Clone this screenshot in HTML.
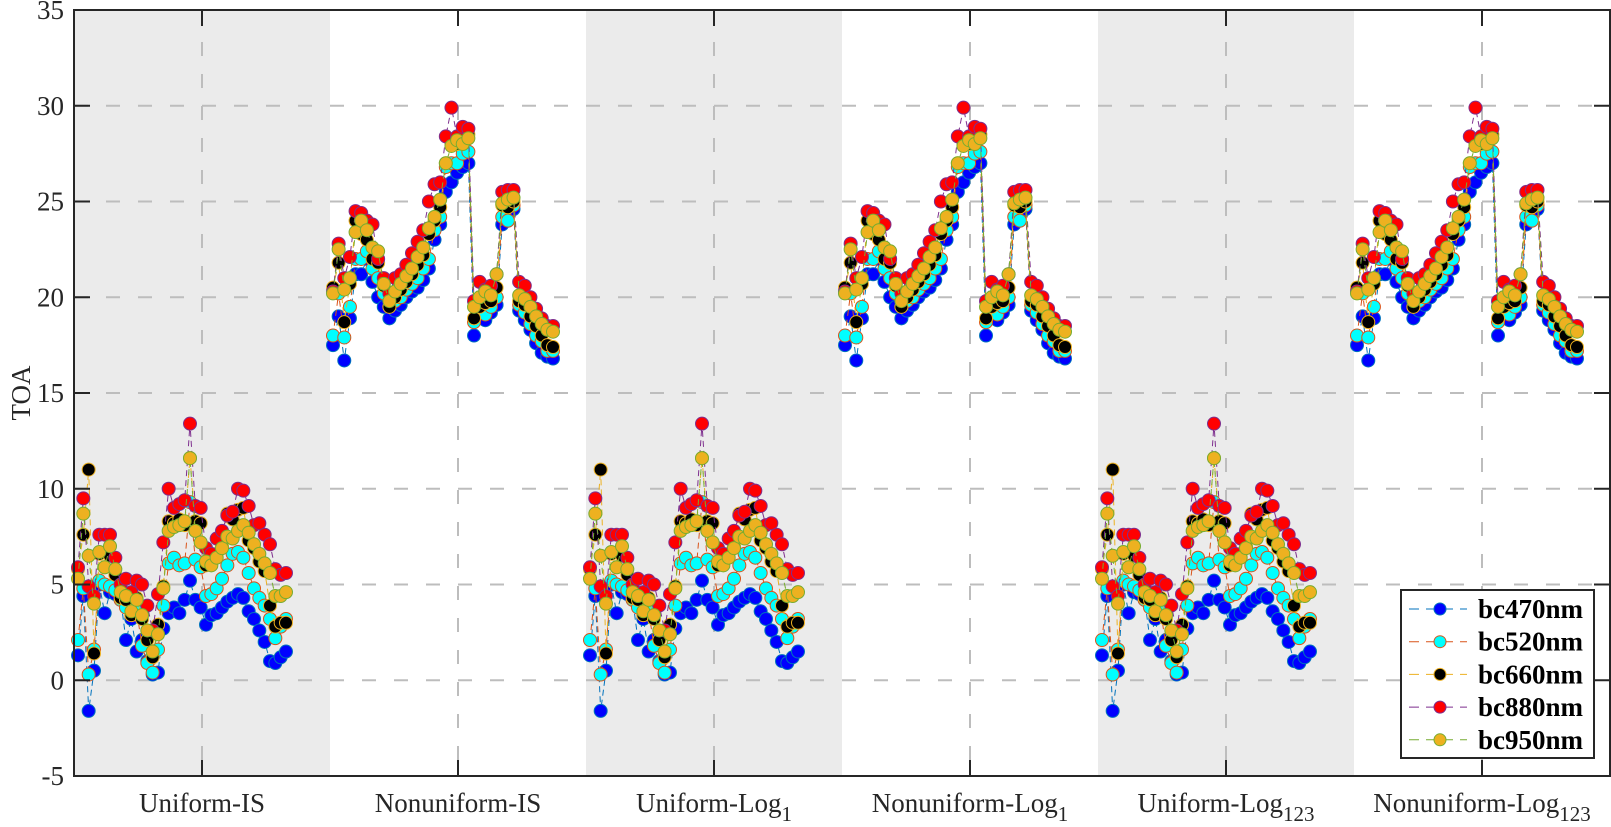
<!DOCTYPE html>
<html><head><meta charset="utf-8"><style>
body{margin:0;background:#fff;width:1611px;height:827px;overflow:hidden;font-family:"Liberation Serif",serif}
svg{position:absolute;left:0;top:0}
</style></head><body>
<svg id="chart" width="1611" height="827" xmlns="http://www.w3.org/2000/svg"></svg>
<script>
const categories=["Uniform-IS","Nonuniform-IS","Uniform-Log|1","Nonuniform-Log|1","Uniform-Log|123","Nonuniform-Log|123"];
const groupType=["u","n","u","n","u","n"];
const seriesNames=["bc470nm","bc520nm","bc660nm","bc880nm","bc950nm"];
const yTicks=[-5,0,5,10,15,20,25,30,35];
const u470=[1.3,4.4,-1.6,0.5,5.0,3.5,4.6,4.5,4.2,2.1,3.2,1.5,2.1,1.0,0.3,0.4,2.7,3.5,3.8,3.5,4.2,5.2,4.2,3.8,2.9,3.4,3.5,3.8,4.1,4.3,4.5,4.3,3.6,3.2,2.6,2.0,1.0,0.9,1.2,1.5];
const u520=[2.1,4.8,0.3,1.6,5.2,5.0,4.9,4.7,4.2,3.8,3.4,3.6,1.8,0.9,0.4,1.6,3.9,6.1,6.4,6.0,6.1,9.3,6.3,5.9,4.4,4.5,4.8,5.3,6.0,6.6,6.7,6.4,5.6,4.8,4.3,3.9,3.2,2.2,2.8,3.2];
const u660=[5.8,7.6,11.0,1.4,6.6,5.9,6.5,5.5,4.3,4.2,3.4,4.3,3.2,2.1,1.2,2.9,4.9,8.3,8.2,8.4,8.1,11.6,8.3,8.2,6.0,6.2,6.6,7.0,8.7,8.4,8.9,9.0,7.3,6.9,6.2,5.7,3.9,2.8,3.0,3.0];
const u880=[5.9,9.5,4.9,4.4,7.6,7.6,7.6,6.4,5.0,5.3,4.6,5.2,5.0,3.9,2.6,4.5,7.2,10.0,9.0,9.2,9.4,13.4,9.1,9.0,6.9,6.6,7.4,7.8,8.6,8.8,10.0,9.9,9.1,8.1,8.2,7.6,7.1,5.8,5.5,5.6];
const u950=[5.3,8.7,6.5,4.0,6.7,5.9,7.0,5.8,4.6,4.4,3.6,4.2,3.4,2.6,1.5,2.4,4.8,7.8,8.0,8.1,8.3,11.6,7.8,7.2,6.2,6.0,6.4,6.9,7.5,7.4,7.8,8.1,7.7,7.1,6.6,6.1,5.6,4.4,4.4,4.6];
const n470=[17.5,19.0,16.7,18.9,21.2,21.2,22.0,20.8,20.0,19.5,18.9,19.3,19.6,20.0,20.3,20.5,20.9,21.5,23.0,23.8,25.5,26.0,26.5,26.8,27.0,18.0,19.0,18.8,19.2,19.6,23.8,24.0,24.6,19.3,18.8,18.3,17.6,17.1,16.9,16.8];
const n520=[18.0,20.2,17.9,19.5,22.0,22.0,22.4,21.5,21.0,20.2,19.5,19.8,20.0,20.4,20.7,21.0,21.5,22.0,23.5,24.2,26.8,27.0,27.0,27.5,27.6,18.7,19.3,19.1,19.5,20.0,24.2,24.0,24.8,19.6,19.2,18.6,18.0,17.7,17.2,17.2];
const n660=[20.5,21.8,18.7,20.7,24.0,23.3,23.0,22.0,21.8,20.6,19.5,20.0,20.4,20.8,21.2,21.7,22.2,23.3,24.0,24.7,27.0,28.0,28.0,28.0,28.5,18.9,19.5,19.7,19.8,20.5,24.8,24.7,25.0,19.8,19.6,19.0,18.5,18.0,17.5,17.4];
const n880=[20.3,22.8,21.0,22.1,24.5,24.4,24.0,23.8,22.0,21.0,20.2,21.0,21.2,21.7,22.3,22.9,23.5,25.0,25.9,26.0,28.4,29.9,28.4,28.9,28.8,19.8,20.8,20.4,20.6,21.2,25.5,25.6,25.6,20.8,20.6,20.0,19.4,18.9,18.5,18.5];
const n950=[20.2,22.5,20.4,21.0,23.4,24.0,23.5,22.6,22.4,20.7,19.8,20.3,20.7,21.1,21.5,22.1,22.6,23.6,24.2,25.1,27.0,27.9,28.2,28.0,28.3,19.5,20.0,20.3,20.1,21.2,24.9,25.1,25.2,20.1,19.9,19.5,19.0,18.6,18.3,18.2];
const uniformData=[u470,u520,u660,u880,u950];
const nonuniformData=[n470,n520,n660,n880,n950];

const svg=document.getElementById('chart');
const NS='http://www.w3.org/2000/svg';
const L=74,R=1610,T=10,B=776,GW=(R-L)/6;
const lineC=['#0072BD','#D95319','#EDB120','#7E2F8E','#77AC30'];
const faceC=['#0000FF','#00FFFF','#000000','#FF0000','#EDB120'];
function y(v){return B-(v+5)/40*(B-T);}
function mk(tag,attrs,parent){const e=document.createElementNS(NS,tag);for(const k in attrs)e.setAttribute(k,attrs[k]);(parent||svg).appendChild(e);return e;}
function xPt(g,i,n){const t=groupType[g];const off=t==='u'?4:3,span=t==='u'?208:220;return L+g*GW+off+i*span/(n-1);}

for(let g=0;g<6;g++){
  const r=mk('rect',{x:L+g*GW,y:T,width:GW,height:B-T,fill:g%2===0?'#EBEBEB':'#FFFFFF'});
  
  
}
yTicks.forEach(v=>{if(v===-5||v===35)return;
  const l=mk('line',{x1:L,x2:R,y1:y(v),y2:y(v),stroke:'#BDBDBD','stroke-width':2,'stroke-dasharray':'14 18'});
  
  
});
for(let g=0;g<6;g++){const cx=L+g*GW+GW/2;
  const l=mk('line',{x1:cx,x2:cx,y1:T,y2:B,stroke:'#BDBDBD','stroke-width':2,'stroke-dasharray':'14 18'});
  
  
}
for(let s=0;s<5;s++){
  const grp=mk('g',{});
  
  
  for(let g=0;g<6;g++){
    const d=(groupType[g]==='u'?uniformData:nonuniformData)[s];
    const pts=d.map((v,i)=>xPt(g,i,d.length).toFixed(1)+','+y(v).toFixed(1)).join(' ');
    const pl=mk('polyline',{points:pts,fill:'none',stroke:lineC[s],'stroke-width':1,'stroke-dasharray':'6 4'},grp);
    
    
    d.forEach((v,i)=>{
      const c=mk('circle',{cx:xPt(g,i,d.length),cy:y(v),r:6.5,fill:faceC[s],stroke:lineC[s],'stroke-width':1},grp);
      
      
    });
  }
}
const fr=mk('rect',{x:L,y:T,width:R-L,height:B-T,fill:'none',stroke:'#262626','stroke-width':2});


yTicks.forEach(v=>{
  const t1=mk('line',{x1:L,x2:L+16,y1:y(v),y2:y(v),stroke:'#262626','stroke-width':2});
  
  
  const t2=mk('line',{x1:R-16,x2:R,y1:y(v),y2:y(v),stroke:'#262626','stroke-width':2});
  
  
  const tx=mk('text',{x:L-10,y:y(v)+9,'text-anchor':'end','font-size':27,fill:'#262626','font-family':'Liberation Serif, serif'});
  tx.textContent=String(v);
  
  
});
for(let g=0;g<6;g++){const cx=L+g*GW+GW/2;
  const t1=mk('line',{x1:cx,x2:cx,y1:B-16,y2:B,stroke:'#262626','stroke-width':2});
  
  
  const t2=mk('line',{x1:cx,x2:cx,y1:T,y2:T+16,stroke:'#262626','stroke-width':2});
  
  
  const parts=categories[g].split('|');
  const tx=mk('text',{x:cx,y:812,'text-anchor':'middle','font-size':27,fill:'#262626','font-family':'Liberation Serif, serif'});
  
  
  const a=mk('tspan',{},tx);a.textContent=parts[0];
  if(parts[1]){const b=mk('tspan',{'font-size':21,dy:9},tx);b.textContent=parts[1];}
}
const yt=mk('text',{x:0,y:0,transform:'translate(30,393) rotate(-90)','text-anchor':'middle','font-size':27,fill:'#262626','font-family':'Liberation Serif, serif'});
yt.textContent='TOA';


const lg=mk('g',{});


mk('rect',{x:1401,y:590,width:193,height:168,fill:'#fff',stroke:'#262626','stroke-width':2},lg);
for(let s=0;s<5;s++){const ly=609+s*32.7;
  const e=mk('g',{},lg);
  
  
  mk('line',{x1:1409,x2:1467,y1:ly,y2:ly,stroke:lineC[s],'stroke-width':1,'stroke-dasharray':'10 7'},e);
  mk('circle',{cx:1440,cy:ly,r:6,fill:faceC[s],stroke:lineC[s],'stroke-width':1},e);
  const t=mk('text',{x:1478,y:ly+9,'font-size':27,'font-weight':'bold',fill:'#000','font-family':'Liberation Serif, serif'},e);
  t.textContent=seriesNames[s];
}
</script>
</body></html>
